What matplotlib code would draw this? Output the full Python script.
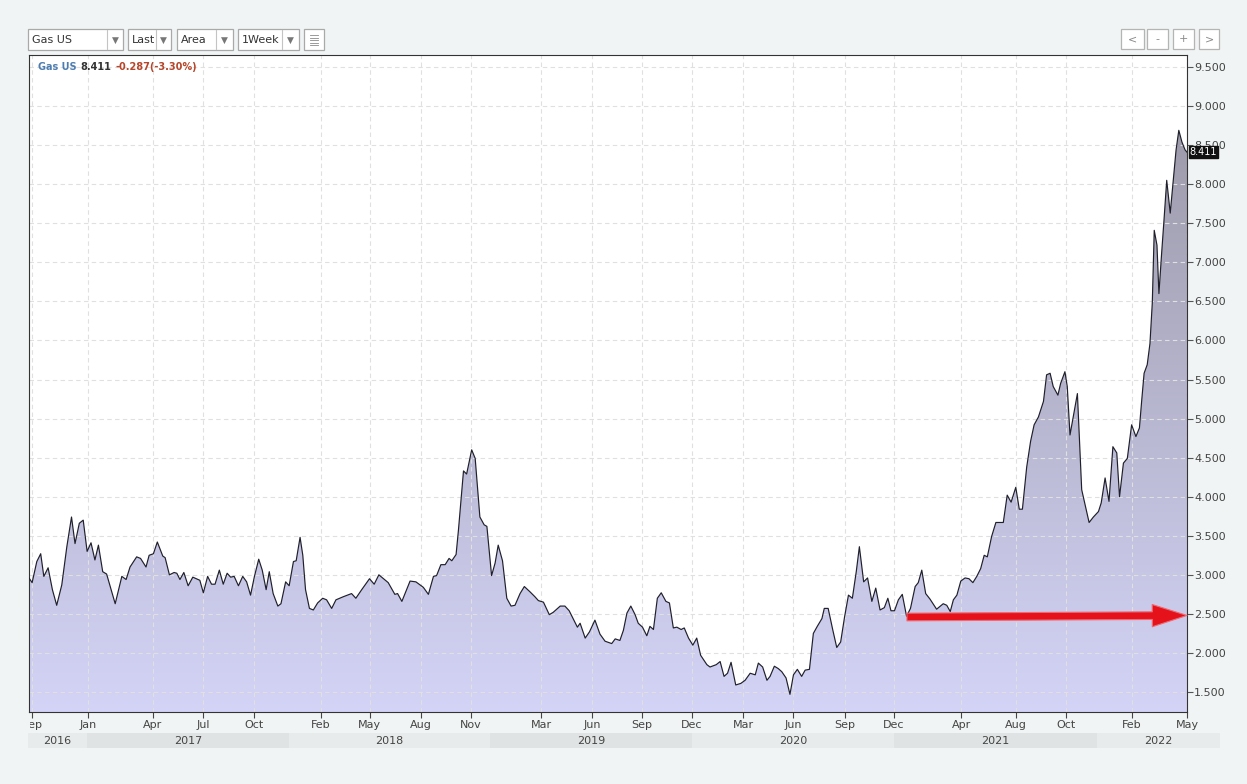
import matplotlib.pyplot as plt
import numpy as np
from matplotlib.patches import Rectangle, FancyArrowPatch, ArrowStyle
from matplotlib.lines import Line2D
from matplotlib.transforms import Bbox

# weekly US natural gas price; x = weeks counted from the left edge of the chart
wk_2016 = [0, 0.8, 2.0, 3.0, 3.8, 4.9, 6.0, 7.1, 8.4, 9.7, 10.9, 11.8, 12.9, 13.9]
gas_2016 = [2.96, 2.90, 3.17, 3.27, 2.98, 3.09, 2.81, 2.61, 2.87, 3.36, 3.74, 3.40, 3.66, 3.70]

wk_2017 = [14.9, 15.9, 16.9, 17.8, 18.9, 19.9, 22.1, 23.8, 24.9, 25.9, 27.6, 28.6,
           30.0, 30.8, 31.9, 32.9, 34.3, 34.9, 36.0, 37.2, 37.9, 38.7, 39.7, 40.8,
           42.0, 43.8, 44.7, 45.8, 46.8, 47.7, 48.8, 49.8, 50.8, 51.7, 52.6, 53.7,
           54.8, 55.8, 56.8, 57.8, 58.9, 59.8, 60.8, 61.6, 62.6, 63.8, 64.6, 65.8,
           66.7, 67.8, 68.5, 69.5, 70.2, 70.9, 71.9, 72.9, 74.0]
gas_2017 = [3.30, 3.41, 3.19, 3.38, 3.04, 3.01, 2.63, 2.98, 2.94, 3.10, 3.23, 3.21,
            3.10, 3.25, 3.27, 3.42, 3.24, 3.22, 3.00, 3.03, 3.02, 2.94, 3.03, 2.86,
            2.97, 2.93, 2.77, 2.98, 2.88, 2.88, 3.06, 2.88, 3.02, 2.97, 2.98, 2.86,
            2.98, 2.91, 2.74, 2.98, 3.20, 3.06, 2.81, 3.04, 2.76, 2.60, 2.63, 2.91,
            2.86, 3.17, 3.18, 3.48, 3.25, 2.81, 2.57, 2.55, 2.64]

wk_2018 = [75.3, 76.3, 77.6, 78.7, 80.6, 82.7, 83.8, 85.3, 87.3, 88.5, 89.7, 92.1,
           93.8, 94.5, 95.6, 97.7, 99.2, 101.1, 102.4, 103.7, 104.5, 105.6, 106.7, 107.7,
           108.4, 109.5, 110.1, 111.4, 112.2, 113.5, 114.4, 115.6, 116.7, 117.4, 118.6, 119.5,
           120.3, 121.4, 122.5, 123.6, 124.6, 125.9, 127.0, 128.5, 129.7, 130.6]
gas_2018 = [2.70, 2.68, 2.57, 2.68, 2.72, 2.76, 2.70, 2.81, 2.95, 2.88, 3.00, 2.90,
            2.75, 2.76, 2.66, 2.92, 2.91, 2.84, 2.75, 2.98, 2.99, 3.13, 3.13, 3.21,
            3.18, 3.26, 3.57, 4.33, 4.29, 4.60, 4.49, 3.74, 3.64, 3.62, 2.99, 3.15,
            3.38, 3.18, 2.70, 2.60, 2.61, 2.76, 2.85, 2.78, 2.72, 2.67]

wk_2019 = [131.9, 133.4, 134.4, 136.2, 137.4, 138.5, 139.6, 140.6, 141.3, 142.6, 143.7, 145.1,
           146.4, 147.7, 149.4, 150.3, 151.5, 152.4, 153.3, 154.3, 155.4, 156.2, 157.3, 158.4,
           159.2, 160.1, 161.1, 162.1, 163.3, 164.2, 165.2, 166.1, 167.2, 168.0, 169.1]
gas_2019 = [2.65, 2.49, 2.52, 2.60, 2.60, 2.54, 2.43, 2.33, 2.38, 2.19, 2.27, 2.42,
            2.24, 2.15, 2.12, 2.18, 2.16, 2.29, 2.51, 2.60, 2.49, 2.38, 2.33, 2.22,
            2.34, 2.30, 2.70, 2.77, 2.66, 2.64, 2.32, 2.33, 2.30, 2.32, 2.19]

wk_2020 = [170.2, 171.2, 172.2, 173.8, 174.6, 176.2, 177.2, 178.2, 179.1, 180.0, 181.2, 182.5,
           183.6, 184.9, 186.2, 187.0, 188.1, 189.2, 190.0, 191.1, 192.1, 193.0, 194.1, 195.1,
           196.0, 197.0, 198.1, 199.0, 200.1, 201.1, 202.1, 203.3, 203.9, 204.9, 206.1, 207.1,
           208.1, 209.1, 210.1, 211.1, 212.1, 212.9, 214.0, 215.0, 216.1, 217.1, 218.2, 219.3,
           220.2, 221.0, 221.9]
gas_2020 = [2.10, 2.19, 1.97, 1.85, 1.82, 1.85, 1.89, 1.70, 1.74, 1.88, 1.59, 1.61,
            1.65, 1.74, 1.72, 1.87, 1.82, 1.65, 1.70, 1.83, 1.80, 1.76, 1.68, 1.47,
            1.72, 1.79, 1.70, 1.78, 1.79, 2.25, 2.34, 2.44, 2.57, 2.57, 2.29, 2.07,
            2.14, 2.46, 2.74, 2.70, 3.04, 3.36, 2.91, 2.96, 2.66, 2.83, 2.55, 2.58,
            2.70, 2.54, 2.54]

wk_2021 = [222.9, 223.9, 225.0, 226.0, 227.2, 228.0, 228.9, 229.9, 231.0, 232.7, 234.4, 235.3,
           236.2, 237.0, 237.9, 238.9, 240.0, 241.0, 242.0, 243.0, 244.0, 244.9, 245.7, 246.8,
           247.9, 249.8, 250.8, 251.8, 253.0, 253.9, 254.7, 255.8, 256.8, 257.7, 258.8, 260.1,
           260.9, 261.8, 262.6, 263.8, 264.5, 265.6, 266.2, 266.9, 267.9, 268.8, 269.9, 270.8,
           271.8, 272.9, 274.2, 274.9, 275.9, 276.9, 277.9, 278.9, 279.6, 280.6, 281.6, 282.7]
gas_2021 = [2.68, 2.75, 2.47, 2.57, 2.85, 2.90, 3.06, 2.76, 2.69, 2.56, 2.63, 2.61,
            2.53, 2.68, 2.74, 2.92, 2.96, 2.95, 2.90, 2.98, 3.08, 3.25, 3.23, 3.49,
            3.67, 3.67, 4.02, 3.93, 4.12, 3.84, 3.84, 4.38, 4.71, 4.92, 5.02, 5.22,
            5.56, 5.58, 5.41, 5.30, 5.45, 5.60, 5.41, 4.79, 5.07, 5.32, 4.09, 3.89,
            3.67, 3.74, 3.81, 3.92, 4.24, 3.94, 4.64, 4.56, 4.00, 4.43, 4.49, 4.92]

wk_2022 = [283.8, 284.7, 285.3, 285.9, 286.7, 287.4, 288.0, 288.5, 289.2, 289.7,
           290.4, 291.0, 291.7, 292.6, 293.3, 294.1, 294.8, 295.6, 296.4, 296.9]
gas_2022 = [4.77, 4.88, 5.24, 5.58, 5.69, 5.96, 6.48, 7.41, 7.22, 6.60,
            7.12, 7.54, 8.05, 7.63, 8.01, 8.44, 8.69, 8.54, 8.44, 8.41]

tick_weeks = [0.8, 15.1, 31.8, 44.6, 57.7, 74.9, 87.4, 100.5, 113.3, 131.3, 144.4,
              157.2, 170.0, 183.1, 195.9, 209.2, 221.8, 239.0, 253.1, 265.9, 282.8, 296.9]
tick_labels = ['Sep', 'Jan', 'Apr', 'Jul', 'Oct', 'Feb', 'May', 'Aug', 'Nov', 'Mar', 'Jun',
               'Sep', 'Dec', 'Mar', 'Jun', 'Sep', 'Dec', 'Apr', 'Aug', 'Oct', 'Feb', 'May']

years = ['2016', '2017', '2018', '2019', '2020', '2021', '2022']
year_start = [-0.3, 14.9, 66.7, 118.2, 170.0, 221.8, 273.8]
year_end = [14.9, 66.7, 118.2, 170.0, 221.8, 273.8, 305.4]

name = 'Gas US'
last, change, pct = 8.411, -0.287, -3.30

weeks = np.concatenate([wk_2016, wk_2017, wk_2018, wk_2019, wk_2020, wk_2021, wk_2022])
price = np.concatenate([gas_2016, gas_2017, gas_2018, gas_2019, gas_2020, gas_2021, gas_2022])

W, H = 1247, 784
fig = plt.figure(figsize=(W / 100, H / 100), dpi=100)
fig.patch.set_facecolor('#f1f4f4')


def fx(px):
    return px / W


def fy(py):
    return 1 - py / H


def box(x0, y0, x1, y1, ec='#a9a9a9'):
    fig.add_artist(Rectangle((fx(x0), fy(y1)), fx(x1) - fx(x0), fy(y0) - fy(y1),
                             transform=fig.transFigure, fc='white', ec=ec, lw=0.9))


# main chart
ax = fig.add_axes([fx(29), fy(712), fx(1187) - fx(29), fy(55) - fy(712)])
ax.set_facecolor('white')
ymin, ymax = 1.244, 9.654
xmax = 296.9
ax.set_xlim(0, xmax)
ax.set_ylim(ymin, ymax)

# area with vertical gradient (lavender -> grey)
area = ax.fill_between(weeks, price, ymin, color='none', lw=0)
g = np.linspace(0, 1, 256)[:, None, None]
c_bot = np.array([0.83, 0.83, 0.97])
c_top = np.array([0.59, 0.58, 0.63])
grad = c_bot * (1 - g) + c_top * g
im = ax.imshow(grad, extent=[0, xmax, ymin, ymax], origin='lower', aspect='auto',
               interpolation='bilinear', zorder=0.5)
im.set_clip_path(area.get_paths()[0], transform=ax.transData)
ax.plot(weeks, price, color='#20202c', lw=0.85, zorder=3)

ax.set_xticks(tick_weeks)
ax.set_xticklabels(tick_labels)
ax.set_yticks(np.arange(1.5, 9.51, 0.5))
ax.yaxis.set_major_formatter(plt.FormatStrFormatter('%.3f'))
ax.yaxis.tick_right()
ax.grid(True, ls=(0, (4, 3)), color='#e0e0e0', lw=0.8)
ax.tick_params(axis='x', length=4, width=0.8, color='#444', labelsize=8,
               labelcolor='#444', pad=1.5)
ax.tick_params(axis='y', length=4, width=0.8, color='#555', labelsize=8,
               labelcolor='#444', pad=1)
for s in ax.spines.values():
    s.set_color('#333333')
    s.set_linewidth(0.8)

# header inside chart
t1 = fig.text(fx(38), fy(67), name, fontsize=7, fontweight='bold',
              color='#4d7db0', va='center')
t2 = ax.annotate(f'{last:.3f}', xy=(1, 0), xycoords=t1, xytext=(3, 0),
                 textcoords='offset points', fontsize=7, fontweight='bold',
                 color='#333333', va='bottom')
ax.annotate(f'{change:.3f}({pct:.2f}%)', xy=(1, 0), xycoords=t2, xytext=(3, 0),
            textcoords='offset points', fontsize=7, fontweight='bold',
            color='#b5462b', va='bottom')

# last price tag (sits over the 8.500 label, as in the original)
ax.annotate(f'{last:.3f}', xy=(1, last), xycoords=('axes fraction', 'data'),
            xytext=(2, 0), textcoords='offset points', ha='left', va='center',
            fontsize=7, color='white', annotation_clip=False, zorder=10,
            bbox=dict(boxstyle='square,pad=0.12', fc='#111111', ec='#111111'))

# red arrow
arrow = FancyArrowPatch((225.1, 2.46), (xmax, 2.48),
                        arrowstyle=ArrowStyle.Simple(head_length=25, head_width=16, tail_width=5.5),
                        mutation_scale=1, fc='#e5121b', ec='#f06a72', lw=0.8,
                        shrinkA=0, shrinkB=0, clip_on=False, zorder=6)
ax.add_patch(arrow)

# year band
ay = fig.add_axes([fx(28), fy(748), fx(1220) - fx(28), fy(733) - fy(748)])
ay.set_xlim(-0.26, 305.4)
ay.set_ylim(0, 1)
ay.axis('off')
for i, (yr, a, b) in enumerate(zip(years, year_start, year_end)):
    ay.add_patch(Rectangle((a, 0), b - a, 1, fc='#e0e3e3' if i % 2 else '#e8ebeb', lw=0))
    ay.text((a + b) / 2, 0.5, yr, ha='center', va='center', fontsize=8, color='#444')

# toolbar
for label, x0, xs, x1 in [('Gas US', 28, 107, 123), ('Last', 128, 156, 171),
                          ('Area', 177, 216, 233), ('1Week', 238, 282, 299)]:
    box(x0, 29, x1, 50)
    fig.add_artist(Line2D([fx(xs), fx(xs)], [fy(30), fy(49)], color='#c4c4c4', lw=0.8,
                          transform=fig.transFigure))
    fig.text(fx(x0 + 4), fy(40), label, fontsize=8, color='#333', va='center')
    fig.text(fx((xs + x1) / 2), fy(40), '▼', fontsize=6.5, color='#777',
             ha='center', va='center')
box(304, 29, 324, 50)
for k in range(5):
    yy = 35 + k * 2.5
    fig.add_artist(Line2D([fx(310), fx(318)], [fy(yy), fy(yy)], color='#8a8a8a', lw=0.6,
                          transform=fig.transFigure))

for label, x0, x1 in [('<', 1121, 1144), ('-', 1147, 1168), ('+', 1173, 1194), ('>', 1199, 1219)]:
    box(x0, 29, x1, 49, ec='#b4b4b4')
    fig.text(fx((x0 + x1) / 2), fy(39), label, fontsize=8, color='#888',
             ha='center', va='center')

# first month label is cut by the chart's left edge
fig.canvas.draw()
first = ax.xaxis.get_major_ticks()[0].label1
first.set_clip_on(True)
first.set_clip_box(Bbox([[29.5, 0], [W, H]]))

fig.savefig('out.png', dpi=100, facecolor=fig.get_facecolor())
